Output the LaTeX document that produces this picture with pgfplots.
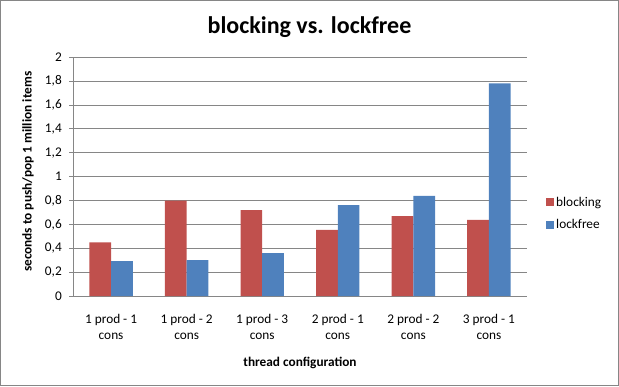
\documentclass[border=0pt]{standalone}
\usepackage{fontspec}
\setmainfont{Carlito}
\usepackage{pgfplots}
\pgfplotsset{compat=1.18}
\definecolor{exred}{HTML}{C0504D}
\definecolor{exblue}{HTML}{4F81BD}
\definecolor{exgrid}{HTML}{868686}
\begin{document}
\begin{tikzpicture}[x=1pt,y=1pt]
\useasboundingbox (0,0) rectangle (619,386);
\draw[exgrid, line width=1pt] (0.5,0.5) rectangle (618.5,385.5);
\node[font=\fontsize{24}{28}\selectfont\bfseries] at (309.5,359) {blocking vs. lockfree};
\begin{axis}[
  at={(73.3pt,90pt)}, anchor=south west,
  scale only axis, width=453.4pt, height=238.7pt,
  ymin=0, ymax=2, ytick={0,0.2,0.4,0.6,0.8,1,1.2,1.4,1.6,1.8,2},
  xmin=-0.5, xmax=5.5, xtick={0,1,2,3,4,5},
  xticklabels={{1 prod - 1\\cons},{1 prod - 2\\cons},{1 prod - 3\\cons},{2 prod - 1\\cons},{2 prod - 2\\cons},{3 prod - 1\\cons}},
  ybar=0pt, bar width=21.7pt,
  axis x line*=bottom, axis y line*=left,
  axis line style={exgrid, -, line width=1pt},
  ymajorgrids, grid style={exgrid, line width=1pt},
  ytick align=outside, major tick length=4pt,
  ytick style={exgrid, line width=1pt},
  xtick style={draw=none},
  tick label style={font=\fontsize{13.3}{16}\selectfont},
  yticklabel style={xshift=-4pt},
  xticklabel style={align=center, yshift=-11pt},
  /pgf/number format/use comma, /pgf/number format/assume math mode=true,
  xlabel={thread configuration},
  ylabel={seconds to push/pop 1 million items},
  label style={font=\fontsize{13.3}{16}\selectfont\bfseries},
  xlabel style={at={(axis description cs:0.5,0)}, anchor=center, yshift=-67pt},
  ylabel style={at={(axis description cs:-0.0999,0.52)}, anchor=center},
  legend style={at={(1.0426,0.345)}, anchor=west, draw=none, fill=none,
    font=\fontsize{13.3}{16}\selectfont, row sep=8pt, inner sep=0pt},
  legend cell align=left,
  legend image code/.code={\fill[#1] (0pt,-4pt) rectangle (8pt,4pt);},
]
\addplot[fill=exred, draw=none] coordinates {(0,0.45) (1,0.80) (2,0.72) (3,0.553) (4,0.67) (5,0.637)};
\addplot[fill=exblue, draw=none] coordinates {(0,0.293) (1,0.30) (2,0.36) (3,0.762) (4,0.838) (5,1.782)};
\legend{blocking, lockfree}
\end{axis}
\end{tikzpicture}
\end{document}
